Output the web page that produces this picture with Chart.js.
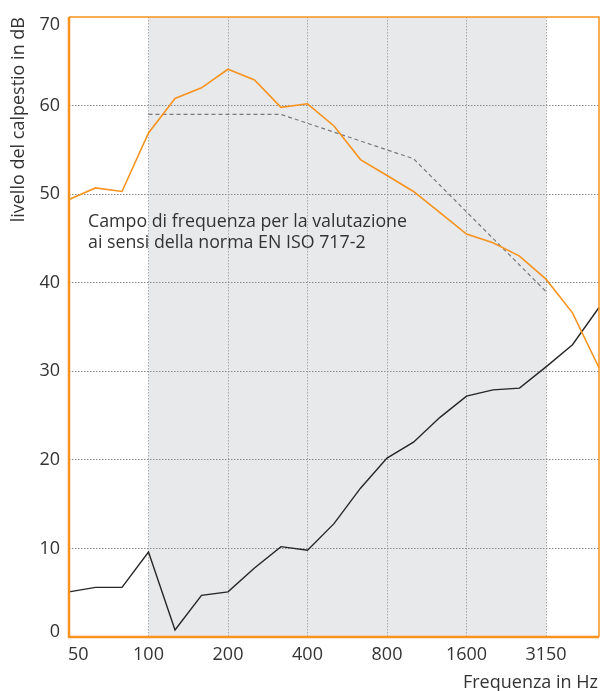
<!DOCTYPE html>
<html>
<head>
<meta charset="utf-8">
<script src="https://cdn.jsdelivr.net/npm/chart.js@4/dist/chart.umd.min.js"></script>
<style>
  html, body { margin: 0; padding: 0; background: #fff; }
  #wrap { width: 600px; height: 691px; position: relative; }
</style>
</head>
<body>
<div id="wrap"><canvas id="chart"></canvas></div>
<script>
// third-octave bands, 50 Hz .. 5000 Hz
const FREQS = ["50", "63", "80", "100", "125", "160", "200", "250", "315", "400", "500",
  "630", "800", "1000", "1250", "1600", "2000", "2500", "3150", "4000", "5000"];
const X_LABELS = ["50", "100", "200", "400", "800", "1600", "3150"];
const Y_TICKS = [0, 10, 20, 30, 40, 50, 60, 70];

// curves (dB)
const orangeCurve = [49.4, 50.7, 50.3, 56.9, 60.8, 62.0, 64.1, 62.9, 59.8, 60.2, 57.7,
  53.9, 52.1, 50.3, 47.9, 45.5, 44.5, 43.0, 40.4, 36.6, 30.4];
const referenceCurve = [null, null, null, 59, 59, 59, 59, 59, 59, 58, 57,
  56, 55, 54, 51, 48, 45, 42, 39, null, null];
const blackCurve = [5.1, 5.6, 5.6, 9.6, 0.8, 4.7, 5.1, 7.8, 10.2, 9.8, 12.8,
  16.8, 20.2, 22.0, 24.8, 27.2, 27.9, 28.1, 30.5, 33.0, 37.2];

// evaluation range
const RANGE_FROM = "100";
const RANGE_TO = "3150";

const NOTE = ["Campo di frequenza per la valutazione", "ai sensi della norma EN ISO 717-2"];
const Y_TITLE = "livello del calpestio in dB";
const X_TITLE = "Frequenza in Hz";

const ORANGE = "#f7931e";
const TEXT = "#333333";
const FONT = "'Open Sans', 'DejaVu Sans', sans-serif";

const decorations = {
  id: "decorations",
  beforeDraw(chart) {
    const { ctx, chartArea: a, scales } = chart;
    const x0 = scales.x.getPixelForValue(FREQS.indexOf(RANGE_FROM));
    const x1 = scales.x.getPixelForValue(FREQS.indexOf(RANGE_TO));
    ctx.save();
    ctx.fillStyle = "#e8e9eb";
    ctx.fillRect(x0, a.top, x1 - x0, a.bottom - a.top);
    ctx.restore();
  },
  afterDraw(chart) {
    const { ctx, chartArea: a, scales } = chart;
    ctx.save();

    // frame
    ctx.strokeStyle = ORANGE;
    ctx.lineWidth = 1.5;
    ctx.beginPath();
    ctx.moveTo(a.left, a.top); ctx.lineTo(a.right, a.top); ctx.lineTo(a.right, a.bottom);
    ctx.stroke();
    ctx.lineWidth = 2.5;
    ctx.beginPath();
    ctx.moveTo(a.left, a.top); ctx.lineTo(a.left, a.bottom); ctx.lineTo(a.right, a.bottom);
    ctx.stroke();

    ctx.fillStyle = TEXT;

    // y tick labels
    ctx.font = "18px " + FONT;
    ctx.textAlign = "right";
    ctx.textBaseline = "middle";
    Y_TICKS.forEach(v => {
      let y = scales.y.getPixelForValue(v);
      y = Math.min(Math.max(y, a.top + 8), a.bottom - 5);
      ctx.fillText(String(v), a.left - 9, y);
    });

    // x tick labels
    X_LABELS.forEach((lab, i) => {
      const x = scales.x.getPixelForValue(FREQS.indexOf(lab));
      ctx.textAlign = i === 0 ? "left" : "center";
      ctx.fillText(lab, x - (i === 0 ? 1 : 0), a.bottom + 18);
    });

    // axis titles
    ctx.font = "18px " + FONT;
    ctx.textAlign = "right";
    ctx.fillText(X_TITLE, a.right - 1, a.bottom + 46);

    ctx.save();
    ctx.translate(19, a.top);
    ctx.rotate(-Math.PI / 2);
    ctx.textAlign = "right";
    ctx.fillText(Y_TITLE, 0, 0);
    ctx.restore();

    // note about the evaluation range
    ctx.font = "17.8px " + FONT;
    ctx.textAlign = "left";
    NOTE.forEach((line, i) => ctx.fillText(line, a.left + 19, 222 + i * 21));

    ctx.restore();
  }
};

new Chart(document.getElementById("chart"), {
  type: "line",
  data: {
    labels: FREQS,
    datasets: [
      {
        data: orangeCurve,
        borderColor: ORANGE,
        borderWidth: 1.6,
        pointRadius: 0,
        tension: 0,
      },
      {
        data: referenceCurve,
        borderColor: "#7a7a7a",
        borderWidth: 1.2,
        borderDash: [4, 3],
        pointRadius: 0,
        tension: 0,
        spanGaps: false,
      },
      {
        data: blackCurve,
        borderColor: "#262626",
        borderWidth: 1.4,
        pointRadius: 0,
        tension: 0,
      },
    ],
  },
  options: {
    responsive: true,
    maintainAspectRatio: false,
    animation: false,
    layout: { padding: { left: 69, top: 17, right: 1, bottom: 54 } },
    plugins: { legend: { display: false }, tooltip: { enabled: false } },
    scales: {
      x: {
        type: "category",
        offset: false,
        ticks: { display: false, autoSkip: false },
        afterBuildTicks: scale => {
          scale.ticks = scale.ticks.filter(t => X_LABELS.includes(FREQS[t.value]));
        },
        afterFit: scale => { scale.height = 0; },
        grid: {
          drawTicks: false,
          color: ctx => (ctx.tick && FREQS[ctx.tick.value] === "50" ? "rgba(0,0,0,0)" : "#a8a8a8"),
          lineWidth: 1,
        },
        border: { display: false, dash: [1.5, 1.5] },
      },
      y: {
        min: 0,
        max: 70,
        ticks: { display: false, stepSize: 10 },
        afterFit: scale => { scale.width = 0; },
        grid: {
          drawTicks: false,
          color: ctx => (ctx.tick && (ctx.tick.value === 0 || ctx.tick.value === 70) ? "rgba(0,0,0,0)" : "#8a8a8a"),
          lineWidth: 1,
        },
        border: { display: false, dash: [1.5, 1.5] },
      },
    },
  },
  plugins: [decorations],
});
</script>
</body>
</html>
